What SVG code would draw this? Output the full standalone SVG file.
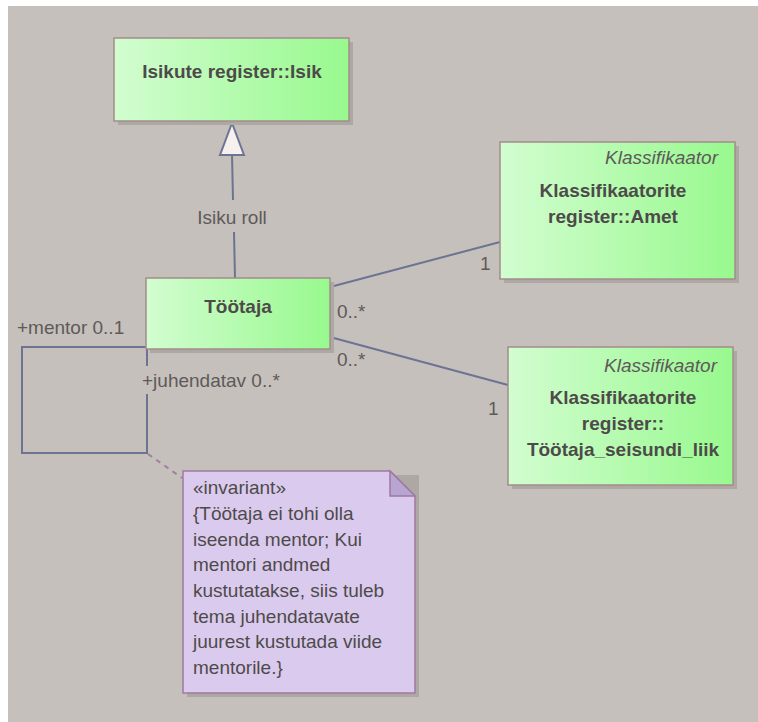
<svg xmlns="http://www.w3.org/2000/svg" width="758" height="722" viewBox="0 0 758 722">
  <defs>
    <linearGradient id="cls" x1="0" y1="0" x2="1" y2="0">
      <stop offset="0" stop-color="#D2FDD0"/>
      <stop offset="1" stop-color="#98F98E"/>
    </linearGradient>
    <style>
      .box { fill: url(#cls); stroke: #A38C8C; stroke-width: 1.5; }
      .shadow { fill: #ADA8A3; }
      .note { fill: #DACBEE; stroke: #9F7A9F; stroke-width: 1.5; }
      .fold { fill: #B7A5D2; stroke: #9F7A9F; stroke-width: 1.5; }
      .edge { fill: none; stroke: #6C7393; stroke-width: 2; }
      .dash { fill: none; stroke: #A07FA0; stroke-width: 2; stroke-dasharray: 5 5; }
      .title { font-family: "Liberation Sans", Arial, sans-serif; font-size: 19px; font-weight: bold; fill: #4E4A4A; text-anchor: middle; }
      .stereo { font-family: "Liberation Sans", Arial, sans-serif; font-size: 19px; font-style: italic; fill: #5F5A5A; text-anchor: end; }
      .lbl { font-family: "Liberation Sans", Arial, sans-serif; font-size: 19px; fill: #5E5A5A; }
      .ntxt { font-family: "Liberation Sans", Arial, sans-serif; font-size: 19px; fill: #4E4A4A; }
    </style>
  </defs>

  <!-- canvas -->
  <rect x="0" y="0" width="758" height="722" fill="#FFFFFF"/>
  <rect x="8" y="6" width="750" height="716" fill="#C5C0BB"/>

  <!-- connectors -->
  <g id="connectors">
    <!-- generalization Töötaja -> Isik -->
    <path class="edge" d="M235 278 L234 232 M233 200 L232 154"/>
    <polygon points="232,123 220,155 244,155" fill="#F6F0EE" stroke="#6C7393" stroke-width="2"/>
    <text class="lbl" x="232" y="224" text-anchor="middle">Isiku roll</text>

    <!-- Töötaja -> Amet -->
    <line class="edge" x1="330" y1="287" x2="500" y2="242"/>
    <text class="lbl" x="337" y="318">0..*</text>
    <text class="lbl" x="480" y="270">1</text>

    <!-- Töötaja -> Töötaja_seisundi_liik -->
    <line class="edge" x1="330" y1="337" x2="508" y2="385"/>
    <text class="lbl" x="337" y="366">0..*</text>
    <text class="lbl" x="488" y="415">1</text>

    <!-- mentor self-association -->
    <path class="edge" d="M146 347 L22 347 L22 453 L147 453 L147 394 M147 366 L147 349"/>
    <text class="lbl" x="17" y="334">+mentor 0..1</text>
    <text class="lbl" x="142" y="387">+juhendatav 0..*</text>

    <!-- constraint anchor -->
    <line class="dash" x1="148" y1="454" x2="182" y2="478"/>
  </g>

  <!-- Isikute register::Isik -->
  <g id="isik">
    <rect class="shadow" x="118" y="42" width="235" height="83"/>
    <rect class="box" x="114" y="38" width="235" height="83"/>
    <text class="title" x="232" y="78">Isikute register::Isik</text>
  </g>

  <!-- Töötaja -->
  <g id="tootaja">
    <rect class="shadow" x="150" y="282" width="184" height="71"/>
    <rect class="box" x="146" y="278" width="184" height="71"/>
    <text class="title" x="238" y="313">Töötaja</text>
  </g>

  <!-- Klassifikaatorite register::Amet -->
  <g id="amet">
    <rect class="shadow" x="504" y="146" width="235" height="137"/>
    <rect class="box" x="500" y="142" width="235" height="137"/>
    <text class="stereo" x="718" y="164">Klassifikaator</text>
    <text class="title" x="613" y="197">Klassifikaatorite</text>
    <text class="title" x="613" y="223">register::Amet</text>
  </g>

  <!-- Klassifikaatorite register::Töötaja_seisundi_liik -->
  <g id="seisund">
    <rect class="shadow" x="512" y="351" width="225" height="138"/>
    <rect class="box" x="508" y="347" width="225" height="138"/>
    <text class="stereo" x="717" y="372">Klassifikaator</text>
    <text class="title" x="623" y="404">Klassifikaatorite</text>
    <text class="title" x="623" y="430">register::</text>
    <text class="title" x="623" y="456">Töötaja_seisundi_liik</text>
  </g>

  <!-- invariant note -->
  <g id="invariant">
    <rect class="shadow" x="187" y="475" width="232" height="222"/>
    <path class="note" d="M183 471 L390 471 L415 496 L415 693 L183 693 Z"/>
    <path class="fold" d="M390 471 L390 496 L415 496 Z"/>
    <text class="ntxt" x="193" y="494">«invariant»</text>
    <text class="ntxt" x="193" y="520">{Töötaja ei tohi olla</text>
    <text class="ntxt" x="193" y="546">iseenda mentor; Kui</text>
    <text class="ntxt" x="193" y="571">mentori andmed</text>
    <text class="ntxt" x="193" y="597">kustutatakse, siis tuleb</text>
    <text class="ntxt" x="193" y="623">tema juhendatavate</text>
    <text class="ntxt" x="193" y="648">juurest kustutada viide</text>
    <text class="ntxt" x="193" y="674">mentorile.}</text>
  </g>
</svg>
